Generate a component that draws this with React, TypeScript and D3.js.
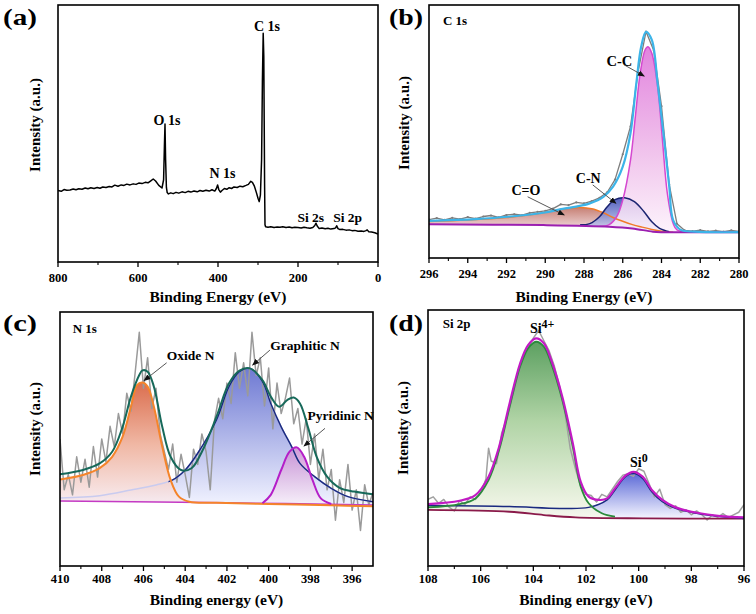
import { useEffect, useRef } from "react";
import * as d3 from "d3";

type Pt = [number, number];

// ---------- (a) survey spectrum ----------
const surveyCurve: Pt[] = [
  [800, 27.8], [792, 27.5], [785, 28.2], [778, 27.9], [770, 28.0], [762, 28.4], [755, 28.1], [748, 28.5],
  [740, 28.3], [732, 28.8], [725, 28.5], [718, 28.9], [710, 28.6], [702, 29.0], [695, 28.7], [688, 29.2],
  [680, 29.0], [672, 29.4], [665, 29.2], [658, 29.9], [650, 29.5], [642, 30.0], [635, 29.8], [628, 30.3],
  [620, 30.0], [612, 30.4], [605, 30.2], [598, 30.7], [590, 30.5], [582, 31.0], [575, 30.8], [568, 31.6],
  [562, 32.3], [556, 31.5], [548, 29.8], [540, 28.8], [536, 32], [534, 45], [532.5, 53.7], [531, 40],
  [529, 29], [527, 27], [524, 26.5], [518, 26.9], [512, 26.6], [505, 27.1], [498, 26.8], [490, 27.3],
  [482, 27.0], [475, 27.5], [468, 27.2], [460, 27.6], [452, 27.3], [445, 27.8], [438, 27.5], [430, 27.9],
  [422, 27.6], [415, 28.1], [408, 27.6], [404, 28.6], [401, 30.0], [398, 28.2], [394, 27.2], [390, 27.8],
  [384, 28.6], [378, 28.3], [372, 28.9], [366, 28.6], [360, 29.2], [352, 29.0], [345, 29.5], [338, 29.3],
  [330, 29.8], [324, 30.2], [318, 31.4], [314, 31.0], [309, 29.5], [304, 27.0], [300, 24.8], [297, 23.5],
  [294, 26], [291, 40], [289, 70], [287, 89], [285.5, 80], [284.5, 55], [283.5, 30], [282.5, 14.5],
  [281, 13.7], [275, 13.5], [268, 13.7], [260, 13.4], [252, 13.6], [245, 13.5], [238, 13.7], [230, 13.4],
  [222, 13.6], [215, 13.3], [208, 13.5], [200, 13.4], [192, 13.2], [185, 13.5], [178, 13.3], [170, 13.1],
  [163, 13.4], [158, 14.2], [155, 15.1], [152, 14.0], [147, 13.0], [140, 13.2], [132, 12.9], [125, 13.1],
  [118, 12.8], [110, 13.0], [106, 13.3], [103.3, 14.1], [100, 13.0], [95, 12.6], [88, 12.7], [80, 12.4],
  [72, 12.5], [65, 12.2], [58, 12.3], [50, 12.0], [42, 12.1], [35, 11.9], [30, 12.2], [27, 12.5],
  [23, 11.8], [16, 11.7], [8, 11.4], [0, 10.9],
];
const surveyMajor = [800, 600, 400, 200, 0];
const surveyMinor = [700, 500, 300, 100];

// ---------- (b) C 1s ----------
const c1sRaw: Pt[] = [
  [296.0, 15.2], [295.6, 15.8], [295.2, 15.1], [294.8, 15.9], [294.4, 15.4], [294.0, 16.2], [293.6, 15.6],
  [293.2, 16.4], [292.8, 16.8], [292.4, 16.1], [292.0, 17.0], [291.6, 17.3], [291.2, 16.9], [290.8, 17.8],
  [290.4, 18.2], [290.0, 18.6], [289.6, 19.5], [289.2, 21.2], [288.8, 20.9], [288.4, 22.0], [288.0, 21.6],
  [287.6, 22.5], [287.2, 23.8], [286.8, 26.0], [286.4, 31.0], [286.0, 41.0], [285.6, 52.0], [285.2, 74.0],
  [284.8, 89.5], [284.4, 82.0], [284.0, 60.0], [283.6, 29.0], [283.2, 13.5], [282.8, 10.9], [282.4, 10.6],
  [282.0, 11.0], [281.6, 10.5], [281.2, 10.8], [280.8, 10.4], [280.4, 10.9], [280.0, 10.5],
];
const c1sEnvelope: Pt[] = [
  [296, 14.7], [293.6, 15.4], [291.9, 16.3], [290.1, 17.9], [289.1, 19.4], [288.4, 20.3], [287.7, 21.6],
  [287.0, 24.2], [286.5, 28.2], [286.0, 36.1], [285.6, 49.3], [285.3, 69.0], [285.05, 83.5], [284.8, 89.4],
  [284.5, 86.2], [284.2, 69], [283.9, 49.3], [283.6, 28.2], [283.4, 15], [283.0, 11.1], [282.3, 10.4], [280, 10.2],
];
const c1sCC: Pt[] = [
  [287.2, 12.5], [286.7, 13.2], [286.3, 16.5], [286.0, 22.9], [285.6, 38.7], [285.35, 55.9], [285.1, 73.0],
  [284.85, 82.2], [284.7, 83.5], [284.5, 80.9], [284.2, 67.7], [283.95, 46.6], [283.7, 25.6], [283.4, 13.7],
  [283.2, 11.1], [282.6, 10.3],
];
const c1sCN: Pt[] = [
  [288.2, 13.1], [287.7, 13.6], [287.2, 16.3], [286.8, 20.3], [286.4, 23.1], [285.9, 23.8], [285.4, 22.3],
  [284.9, 18.3], [284.5, 14.3], [284.1, 11.7], [283.6, 10.4],
];
const c1sCO: Pt[] = [
  [296, 14.4], [294, 15.0], [292, 16.0], [290.5, 17.4], [289.5, 18.8], [288.8, 19.7], [288.2, 20.0],
  [287.6, 19.5], [287.0, 17.9], [286.5, 16.0], [286.0, 14.5], [285.5, 13.2], [285.0, 12.2], [284.5, 11.3],
  [284.0, 10.6], [283.4, 10.2],
];
const c1sBackground: Pt[] = [
  [296, 13.3], [290.1, 13.0], [286.7, 12.4], [285.5, 11.7], [284.45, 10.4], [283.9, 10.2], [280, 10.2],
];
const c1sMajor = [296, 294, 292, 290, 288, 286, 284, 282, 280];
const c1sMinor = [295, 293, 291, 289, 287, 285, 283, 281];

// ---------- (c) N 1s ----------
const n1sRaw: Pt[] = [
  [410.0, 50], [409.8, 30], [409.6, 36], [409.4, 28], [409.2, 43], [409.0, 33], [408.8, 42], [408.6, 31],
  [408.4, 47], [408.2, 35], [408.0, 50], [407.8, 41], [407.6, 55], [407.4, 47], [407.2, 60], [407.0, 52],
  [406.8, 68], [406.6, 61], [406.4, 76], [406.2, 92], [406.0, 70], [405.8, 82], [405.6, 62], [405.4, 70],
  [405.2, 52], [405.0, 45], [404.8, 38], [404.6, 48], [404.4, 33], [404.2, 44], [404.0, 36], [403.8, 27],
  [403.6, 46], [403.4, 40], [403.2, 52], [403.0, 45], [402.8, 30], [402.6, 57], [402.4, 66], [402.2, 58],
  [402.0, 72], [401.8, 64], [401.6, 84], [401.4, 70], [401.2, 80], [401.0, 67], [400.8, 92], [400.6, 75],
  [400.4, 82], [400.2, 63], [400.0, 78], [399.8, 54], [399.6, 72], [399.4, 60], [399.2, 66], [399.0, 74],
  [398.8, 56], [398.6, 62], [398.4, 48], [398.2, 58], [398.0, 40], [397.8, 52], [397.6, 34], [397.4, 46],
  [397.2, 30], [397.0, 38], [396.8, 18], [396.6, 34], [396.4, 25], [396.2, 40], [396.0, 22], [395.8, 30],
  [395.6, 14], [395.4, 32], [395.2, 24], [395.0, 29],
];
const n1sEnvelope: Pt[] = [
  [410, 36.1], [408.9, 37.8], [408.1, 40.4], [407.5, 45.0], [407.0, 54.8], [406.6, 66.7], [406.2, 75.2],
  [406.05, 77.0], [405.8, 76.5], [405.5, 70.6], [405.1, 54.8], [404.7, 43.0], [404.2, 37.8], [403.7, 38.5],
  [403.2, 45.0], [402.5, 58.8], [401.9, 71.9], [401.4, 76.9], [400.9, 77.8], [400.3, 73.2], [399.9, 66.7],
  [399.5, 62.7], [399.1, 65.4], [398.8, 66.3], [398.5, 64.0], [398.1, 54.2], [397.7, 43.0], [397.2, 35.2],
  [396.6, 30.8], [395.9, 29.3], [395, 28.2],
];
const n1sOxide: Pt[] = [
  [410, 34.1], [408.9, 35.8], [408.1, 38.5], [407.5, 43.0], [407.0, 50.9], [406.6, 62.7], [406.3, 71.3],
  [406.05, 72.2], [405.8, 70.6], [405.5, 62.7], [405.1, 47.0], [404.7, 33.9], [404.3, 27.3], [403.8, 25.3],
  [402.5, 24.9], [400, 24.4], [397, 23.9], [395, 23.5],
];
const n1sGraphitic: Pt[] = [
  [410, 26.8], [408.1, 27.7], [406.6, 29.9], [405.4, 31.9], [404.6, 33.9], [404.0, 37.8], [403.4, 44.4],
  [402.5, 57.5], [401.9, 70.6], [401.4, 76.5], [400.9, 77.8], [400.3, 72.6], [399.9, 64.0], [399.4, 54.8],
  [398.9, 47.0], [398.5, 40.4], [397.8, 35.2], [397.0, 30.6], [396.2, 27.3], [395, 25.3],
];
const n1sPyridinic: Pt[] = [
  [400.3, 24.7], [399.9, 28.0], [399.4, 37.8], [399.0, 45.0], [398.65, 46.7], [398.3, 43.0], [397.9, 33.9],
  [397.5, 26.6], [397.0, 24.4],
];
const n1sBackground: Pt[] = [[410, 25.6], [402, 24.9], [395, 24.0]];
const n1sMajor = [410, 408, 406, 404, 402, 400, 398, 396];
const n1sMinor = [409, 407, 405, 403, 401, 399, 397];

// ---------- (d) Si 2p ----------
const si2pRaw: Pt[] = [
  [108.0, 26], [107.8, 27], [107.6, 24.5], [107.4, 26], [107.2, 23], [107.0, 21.5], [106.8, 25.5],
  [106.6, 24], [106.4, 27], [106.2, 26], [106.0, 28.5], [105.8, 34], [105.7, 46], [105.6, 41], [105.4, 40],
  [105.2, 52], [105.0, 58], [104.8, 66], [104.6, 73], [104.4, 82], [104.2, 85], [104.0, 89], [103.8, 92],
  [103.6, 88], [103.4, 84], [103.2, 78], [103.0, 70], [102.8, 60], [102.6, 46], [102.4, 38], [102.2, 31],
  [102.0, 28], [101.8, 27.5], [101.6, 25], [101.4, 28], [101.2, 27], [101.0, 30], [100.8, 33], [100.6, 35.5],
  [100.4, 36], [100.2, 35], [100.0, 38], [99.8, 37], [99.6, 32], [99.4, 27], [99.2, 30], [99.0, 24],
  [98.8, 22.5], [98.6, 23.5], [98.4, 21], [98.2, 22], [98.0, 20], [97.8, 21.5], [97.6, 20], [97.4, 18],
  [97.2, 20], [97.0, 19], [96.8, 20.5], [96.6, 19], [96.4, 20], [96.2, 21], [96.0, 24],
];
const si2pEnvelope: Pt[] = [
  [108, 24.2], [106.8, 25.5], [106.2, 27.7], [105.7, 34.9], [105.3, 46.6], [104.9, 63.6], [104.5, 79.2],
  [104.2, 86.3], [103.9, 88.9], [103.6, 87.0], [103.3, 79.8], [102.9, 66.1], [102.5, 47.9], [102.2, 32.9],
  [101.9, 27.1], [101.5, 25.8], [101.2, 26.4], [100.9, 30.3], [100.5, 35.3], [100.2, 36.8], [99.85, 34.9],
  [99.5, 29.7], [99.1, 25.8], [98.6, 22.9], [97.8, 20.8], [96.9, 19.5], [96.0, 19.0],
];
const si2pSi4: Pt[] = [
  [108, 22.9], [106.8, 24.2], [106.2, 26.4], [105.7, 33.6], [105.3, 45.3], [104.9, 62.2], [104.5, 77.9],
  [104.2, 85.0], [103.9, 87.6], [103.6, 85.7], [103.3, 78.5], [102.9, 64.8], [102.5, 46.6], [102.2, 31.0],
  [101.9, 24.5], [101.4, 20.6], [100.9, 19.3],
];
const si2pSi0: Pt[] = [
  [108, 23.6], [104.9, 23.2], [103.0, 22.5], [101.9, 22.9], [101.2, 25.8], [100.9, 29.7], [100.5, 34.9],
  [100.2, 36.2], [99.85, 34.2], [99.5, 29.0], [99.1, 25.1], [98.6, 22.5], [97.8, 20.6], [96.9, 19.3], [96.0, 18.6],
];
const si2pBackground: Pt[] = [
  [108, 21.9], [104.9, 21.2], [103.6, 19.9], [102.4, 19.0], [99.85, 18.6], [96, 18.5],
];
const si2pMajor = [108, 106, 104, 102, 100, 98, 96];
const si2pMinor = [107, 105, 103, 101, 99, 97];

const FONT = "Liberation Serif";

interface Box { left: number; top: number; right: number; bottom: number }

const App = () => {
  const ref = useRef<SVGSVGElement>(null);

  useEffect(() => {
    const svg = d3.select(ref.current);
    svg.selectAll("*").remove();
    const defs = svg.append("defs");

    defs
      .append("marker")
      .attr("id", "arrow")
      .attr("viewBox", "0 0 10 10")
      .attr("refX", 9)
      .attr("refY", 5)
      .attr("markerUnits", "userSpaceOnUse")
      .attr("markerWidth", 7)
      .attr("markerHeight", 7)
      .attr("orient", "auto")
      .append("path")
      .attr("d", "M0,1 L10,5 L0,9 z")
      .attr("fill", "#111");

    // vertical gradient, stops as [offset, colour]
    const gradient = (id: string, stops: [string, string][]) => {
      const g = defs
        .append("linearGradient")
        .attr("id", id)
        .attr("x1", 0)
        .attr("y1", 0)
        .attr("x2", 0)
        .attr("y2", 1);
      stops.forEach(([o, c]) => g.append("stop").attr("offset", o).attr("stop-color", c));
      return `url(#${id})`;
    };

    const txt = (g: any) =>
      g.append("text").attr("font-family", FONT).attr("font-weight", "bold");

    /*** panel frame, ticks and titles ***/
    const panel = (
      id: string,
      box: Box,
      xDomain: [number, number],
      majors: number[],
      minors: number[],
      xTitle: string,
      tickBase: number,
      titleBase: number,
      yTitleX: number,
      yTitleY: number,
      letter: string,
      letterX: number,
      letterY: number
    ) => {
      const x = d3.scaleLinear().domain(xDomain).range([box.left, box.right]);
      const y = d3.scaleLinear().domain([0, 100]).range([box.bottom, box.top]);
      defs
        .append("clipPath")
        .attr("id", `clip-${id}`)
        .append("rect")
        .attr("x", box.left)
        .attr("y", box.top)
        .attr("width", box.right - box.left)
        .attr("height", box.bottom - box.top);
      const plot = svg.append("g").attr("clip-path", `url(#clip-${id})`);
      const axes = svg.append("g");

      axes
        .selectAll(".major")
        .data(majors)
        .join("line")
        .attr("x1", (d) => x(d))
        .attr("x2", (d) => x(d))
        .attr("y1", box.bottom)
        .attr("y2", box.bottom + 5)
        .attr("stroke", "#000")
        .attr("stroke-width", 1.3);
      axes
        .selectAll(".minor")
        .data(minors)
        .join("line")
        .attr("x1", (d) => x(d))
        .attr("x2", (d) => x(d))
        .attr("y1", box.bottom)
        .attr("y2", box.bottom + 3)
        .attr("stroke", "#000")
        .attr("stroke-width", 1.1);
      axes
        .selectAll(".tick-label")
        .data(majors)
        .join("text")
        .attr("x", (d) => x(d))
        .attr("y", tickBase)
        .attr("text-anchor", "middle")
        .attr("font-family", FONT)
        .attr("font-weight", "bold")
        .attr("font-size", 12.5)
        .text((d) => d);
      axes
        .append("rect")
        .attr("x", box.left)
        .attr("y", box.top)
        .attr("width", box.right - box.left)
        .attr("height", box.bottom - box.top)
        .attr("fill", "none")
        .attr("stroke", "#000")
        .attr("stroke-width", 1.6);
      txt(axes)
        .attr("x", (box.left + box.right) / 2)
        .attr("y", titleBase)
        .attr("text-anchor", "middle")
        .attr("font-size", 15.5)
        .text(xTitle);
      txt(axes)
        .attr("transform", `translate(${yTitleX},${yTitleY}) rotate(-90)`)
        .attr("text-anchor", "middle")
        .attr("font-size", 15)
        .text("Intensity (a.u.)");
      txt(axes)
        .attr("x", letterX)
        .attr("y", letterY)
        .attr("textLength", 34)
        .attr("lengthAdjust", "spacingAndGlyphs")
        .attr("font-size", 23)
        .text(letter);
      return { x, y, plot, axes };
    };

    const smoothLine = (x: any, y: any) =>
      d3
        .line<Pt>()
        .x((d) => x(d[0]))
        .y((d) => y(d[1]))
        .curve(d3.curveCatmullRom.alpha(0.5));

    const rawLine = (x: any, y: any) =>
      d3
        .line<Pt>()
        .x((d) => x(d[0]))
        .y((d) => y(d[1]));

    const fillTo = (x: any, y: any, bg: Pt[]) => {
      const base = d3
        .scaleLinear()
        .domain(bg.map((d) => d[0]))
        .range(bg.map((d) => d[1]))
        .clamp(true);
      return d3
        .area<Pt>()
        .x((d) => x(d[0]))
        .y0((d) => y(base(d[0])))
        .y1((d) => y(d[1]))
        .curve(d3.curveCatmullRom.alpha(0.5));
    };

    const addFill = (g: any, area: any, pts: Pt[], fill: string, op = 0.85) =>
      g.append("path").datum(pts).attr("d", area).attr("fill", fill).attr("fill-opacity", op);

    const addStroke = (g: any, gen: any, pts: Pt[], color: string, w: number) =>
      g
        .append("path")
        .datum(pts)
        .attr("d", gen)
        .attr("fill", "none")
        .attr("stroke", color)
        .attr("stroke-width", w)
        .attr("stroke-linejoin", "round");

    const label = (g: any, tx: number, ty: number, text: string, anchor = "middle", size = 13.5) =>
      txt(g)
        .attr("x", tx)
        .attr("y", ty)
        .attr("text-anchor", anchor)
        .attr("font-size", size)
        .text(text);

    const arrow = (g: any, x1: number, y1: number, x2: number, y2: number) =>
      g
        .append("line")
        .attr("x1", x1)
        .attr("y1", y1)
        .attr("x2", x2)
        .attr("y2", y2)
        .attr("stroke", "#444")
        .attr("stroke-width", 0.9)
        .attr("marker-end", "url(#arrow)");

    /*** (a) survey ***/
    {
      const { x, y, plot, axes } = panel(
        "a",
        { left: 58, top: 5, right: 378, bottom: 262 },
        [800, 0],
        surveyMajor,
        surveyMinor,
        "Binding Energy (eV)",
        282,
        302,
        40,
        125,
        "(a)",
        3,
        25
      );
      addStroke(plot, rawLine(x, y), surveyCurve, "#000", 1.5);
      label(axes, x(277.5), y(89.7), "C 1s", "middle", 14);
      label(axes, x(527.5), y(53.3), "O 1s", "middle", 14);
      label(axes, x(388.75), y(32.7), "N 1s", "middle", 14);
      label(axes, x(168), y(15.6), "Si 2s", "middle", 13.5);
      label(axes, x(76), y(15.6), "Si 2p", "middle", 13.5);
    }

    /*** (b) C 1s ***/
    {
      const { x, y, plot, axes } = panel(
        "b",
        { left: 429, top: 5, right: 739, bottom: 258 },
        [296, 280],
        c1sMajor,
        c1sMinor,
        "Binding Energy (eV)",
        278,
        302,
        409,
        123,
        "(b)",
        389,
        25
      );
      const area = fillTo(x, y, c1sBackground);
      addFill(plot, area, c1sCO, gradient("gCO", [["0%", "#bd6a5c"], ["100%", "#f5e4ea"]]));
      addFill(plot, area, c1sCN, gradient("gCN", [["0%", "#3343b2"], ["100%", "#d8dbf5"]]));
      addFill(plot, area, c1sCC, gradient("gCC", [["0%", "#dd6ed8"], ["60%", "#efbdea"], ["100%", "#fcf1fb"]]));
      addStroke(plot, rawLine(x, y), c1sRaw, "#7d7d7d", 1.3);
      plot
        .selectAll(".dot")
        .data(c1sRaw)
        .join("circle")
        .attr("cx", (d) => x(d[0]))
        .attr("cy", (d) => y(d[1]))
        .attr("r", 1.1)
        .attr("fill", "#7d7d7d");
      const line = smoothLine(x, y);
      addStroke(plot, line, c1sCO, "#f07a2a", 1.5);
      addStroke(plot, line, c1sCN, "#1a2370", 1.5);
      addStroke(plot, line, c1sCC, "#d548d0", 1.5);
      addStroke(plot, line, c1sBackground, "#9b1fb0", 2);
      addStroke(plot, line, c1sEnvelope, "#3cb4e8", 2.2);
      label(axes, x(295.28), y(92.1), "C 1s", "start", 13);
      label(axes, x(286.17), y(75.9), "C-C", "middle", 14.5);
      label(axes, x(287.78), y(29.6), "C-N", "middle", 14);
      label(axes, x(291.0), y(24.9), "C=O", "middle", 14);
      arrow(axes, x(285.92), y(76.3), x(284.89), y(71.9));
      arrow(axes, x(287.55), y(28.9), x(286.35), y(21.6));
      arrow(axes, x(290.91), y(24.2), x(289.02), y(17.0));
    }

    /*** (c) N 1s ***/
    {
      const { x, y, plot, axes } = panel(
        "c",
        { left: 60, top: 312, right: 373, bottom: 566 },
        [410, 395],
        n1sMajor,
        n1sMinor,
        "Binding energy (eV)",
        583,
        605,
        40,
        429,
        "(c)",
        3,
        331
      );
      const area = fillTo(x, y, n1sBackground);
      addFill(plot, area, n1sGraphitic, gradient("gGr", [["0%", "#4a58c8"], ["100%", "#eef0ff"]]), 0.8);
      addFill(plot, area, n1sOxide, gradient("gOx", [["0%", "#d65a36"], ["50%", "#eeae98"], ["100%", "#f8edf3"]]), 0.88);
      addFill(plot, area, n1sPyridinic, gradient("gPy", [["0%", "#c98ad2"], ["100%", "#f7eef8"]]), 0.85);
      addStroke(plot, rawLine(x, y), n1sRaw, "#9a9a9a", 1.5);
      const line = smoothLine(x, y);
      addStroke(plot, line, n1sBackground, "#c43ac4", 1.5);
      // faint tail of the graphitic component, dark stroke only where it shows
      addStroke(plot, line, n1sGraphitic, "#c9cbef", 1.5);
      defs
        .append("clipPath")
        .attr("id", "clip-gr")
        .append("rect")
        .attr("x", x(404.8))
        .attr("y", 312)
        .attr("width", 373 - x(404.8))
        .attr("height", 254);
      addStroke(plot.append("g").attr("clip-path", "url(#clip-gr)"), line, n1sGraphitic, "#1a2a80", 1.5);
      addStroke(plot, line, n1sOxide, "#f5842a", 2);
      addStroke(plot, line, n1sPyridinic, "#b41ec8", 2);
      addStroke(plot, line, n1sEnvelope, "#17695a", 2);
      label(axes, x(409.39), y(91.7), "N 1s", "start", 13);
      label(axes, x(403.74), y(81.1), "Oxide N", "middle", 13.5);
      label(axes, x(398.26), y(85.0), "Graphitic N", "middle", 13.5);
      label(axes, x(396.55), y(57.5), "Pyridinic N", "middle", 13.5);
      arrow(axes, x(404.89), y(80.0), x(405.97), y(73.0));
      arrow(axes, x(399.94), y(85.0), x(400.77), y(79.1));
      arrow(axes, x(397.3), y(54.2), x(398.31), y(47.2));
    }

    /*** (d) Si 2p ***/
    {
      const { x, y, plot, axes } = panel(
        "d",
        { left: 428, top: 310, right: 744, bottom: 566 },
        [108, 96],
        si2pMajor,
        si2pMinor,
        "Binding energy (eV)",
        583,
        605,
        408,
        428,
        "(d)",
        389,
        331
      );
      const area = fillTo(x, y, si2pBackground);
      addFill(plot, area, si2pSi0, gradient("gSi0", [["0%", "#3f4fd0"], ["100%", "#f4f4ff"]]), 0.85);
      addFill(plot, area, si2pSi4, gradient("gSi4", [["0%", "#4b9650"], ["45%", "#a8cf9c"], ["100%", "#f7f8ec"]]), 0.9);
      addStroke(plot, rawLine(x, y), si2pRaw, "#a0a0a0", 1.5);
      const line = smoothLine(x, y);
      addStroke(plot, line, si2pBackground, "#8a1a4a", 1.8);
      addStroke(plot, line, si2pSi0, "#1a2a80", 1.5);
      addStroke(plot, line, si2pSi4, "#2a8a3c", 1.8);
      addStroke(plot, line, si2pEnvelope, "#c21ac4", 2.2);
      label(axes, x(107.44), y(93.0), "Si 2p", "start", 13);
      const s4 = label(axes, x(104.13), y(91.0), "", "start", 14);
      s4.append("tspan").text("Si");
      s4.append("tspan").attr("dy", -5).attr("font-size", 12).text("4+");
      const s0 = label(axes, x(100.33), y(38.7), "", "start", 14);
      s0.append("tspan").text("Si");
      s0.append("tspan").attr("dy", -5).attr("font-size", 12).text("0");
    }
  }, []);

  return (
    <svg
      ref={ref}
      width={756}
      height={614}
      style={{ position: "absolute", left: 0, top: 0, background: "#fff" }}
    />
  );
};

export default App;
